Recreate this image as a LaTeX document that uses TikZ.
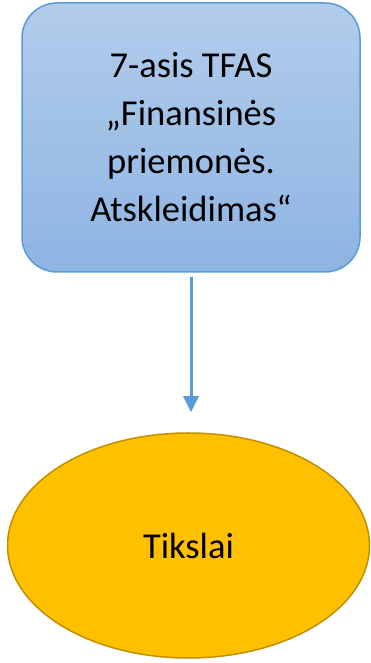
\documentclass[tikz,border=0pt]{standalone}
\usepackage{fontspec}
\setmainfont{Carlito}
\usetikzlibrary{arrows.meta,shapes.geometric}

\definecolor{boxtop}{RGB}{178,204,235}
\definecolor{boxbottom}{RGB}{142,180,227}
\definecolor{boxline}{RGB}{91,155,213}
\definecolor{goalfill}{RGB}{255,192,0}
\definecolor{goalline}{RGB}{191,144,0}

\tikzset{
  stdbox/.style={draw=boxline, line width=1.5pt, rounded corners=35pt,
    top color=boxtop, bottom color=boxbottom,
    minimum width=338pt, minimum height=269pt, align=center,
    font=\fontsize{36.5}{48}\selectfont},
  goal/.style={ellipse, draw=goalline, line width=1.5pt, fill=goalfill,
    minimum width=362pt, minimum height=225pt, inner sep=0pt,
    font=\fontsize{36.5}{48}\selectfont},
  link/.style={-{Triangle[width=15pt,length=16pt]}, line width=3pt, draw=boxline}
}

\begin{document}
\begin{tikzpicture}[x=1pt,y=1pt]
    \useasboundingbox (0,0) rectangle (370,663);

    % Standard
    \node[stdbox] (tfas) at (191,525.5) {7-asis TFAS\\„Finansinės\\priemonės.\\Atskleidimas“};

    % Goals
    \node[goal] (tikslai) at (188.5,117.5) {Tikslai};

    % Connector
    \draw[link, shorten <=4pt, shorten >=20pt] (tfas.south) -- (tfas.south |- tikslai.north);
  \end{tikzpicture}
\end{document}
